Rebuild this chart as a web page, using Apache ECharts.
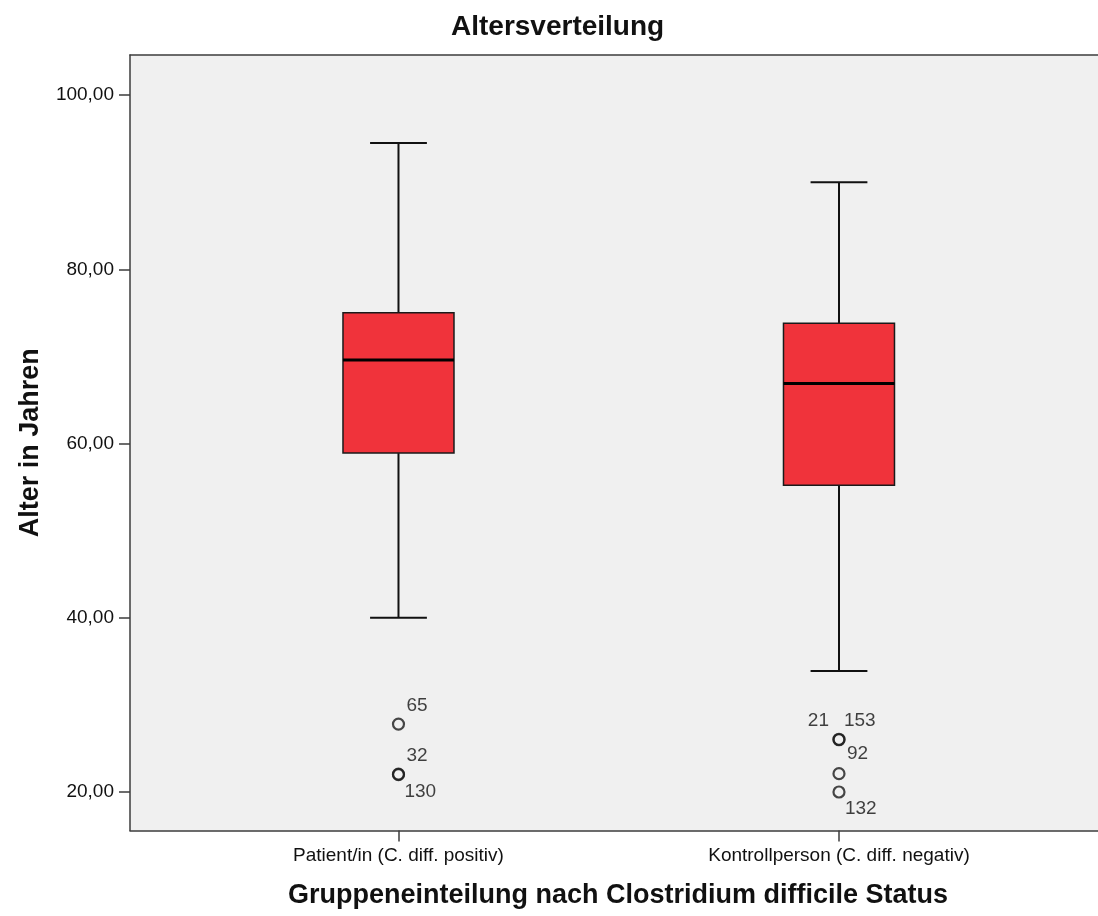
<!DOCTYPE html>
<html>
<head>
<meta charset="utf-8">
<script src="https://cdn.jsdelivr.net/npm/echarts@6/dist/echarts.min.js"></script>
<style>
html,body{margin:0;padding:0;background:#fff;}
#chart{width:1098px;height:916px;}
</style>
</head>
<body>
<div id="chart"></div>
<script>
// ---- data ----
const categories = ['Patient/in (C. diff. positiv)', 'Kontrollperson (C. diff. negativ)'];
const categoryPos = [1, 2];
const whiskerLow = [40.0, 33.9];
const q1 = [58.9, 55.2];
const median = [69.6, 66.9];
const q3 = [75.0, 73.8];
const whiskerHigh = [94.5, 90.0];

const outlierGroup = [1, 1, 1, 2, 2, 2, 2];
const outlierValue = [27.8, 22.0, 22.05, 26.0, 26.05, 22.1, 20.0];
const outlierId = ['65', '32', '130', '21', '153', '92', '132'];

const yTicks = [20, 40, 60, 80, 100];

// ---- style / layout ----
const labelPlacement = {
  '65': {offset: [8, -18], align: 'left'},
  '32': {offset: [8, -19], align: 'left'},
  '130': {offset: [6, 18], align: 'left'},
  '21': {offset: [-10, -19], align: 'right'},
  '153': {offset: [5, -19], align: 'left'},
  '92': {offset: [8, -20], align: 'left'},
  '132': {offset: [6, 17], align: 'left'}
};
const boxWidthUnits = 0.252;
const capWidthUnits = 0.129;
const FONT = '"Liberation Sans", Arial, sans-serif';
const AXIS_COLOR = '#3c3c3c';

const boxData = categoryPos.map((x, i) => [x, whiskerLow[i], q1[i], median[i], q3[i], whiskerHigh[i]]);
const outlierData = outlierValue.map((v, i) => {
  const p = labelPlacement[outlierId[i]];
  return {
    value: [outlierGroup[i], v, outlierId[i]],
    label: {offset: p.offset, align: p.align}
  };
});

function renderBox(params, api) {
  const x = api.value(0);
  const lo = api.coord([x, api.value(1)]);
  const b1 = api.coord([x, api.value(2)]);
  const md = api.coord([x, api.value(3)]);
  const b3 = api.coord([x, api.value(4)]);
  const hi = api.coord([x, api.value(5)]);
  const bw = api.size([boxWidthUnits, 0])[0];
  const cw = api.size([capWidthUnits, 0])[0];
  const cx = lo[0];
  const lineStyle = {stroke: '#111', lineWidth: 2};
  return {
    type: 'group',
    children: [
      {type: 'line', shape: {x1: cx, y1: hi[1], x2: cx, y2: b3[1]}, style: lineStyle},
      {type: 'line', shape: {x1: cx, y1: b1[1], x2: cx, y2: lo[1]}, style: lineStyle},
      {type: 'line', shape: {x1: cx - cw / 2, y1: hi[1], x2: cx + cw / 2, y2: hi[1]}, style: lineStyle},
      {type: 'line', shape: {x1: cx - cw / 2, y1: lo[1], x2: cx + cw / 2, y2: lo[1]}, style: lineStyle},
      {type: 'rect', shape: {x: cx - bw / 2, y: b3[1], width: bw, height: b1[1] - b3[1]},
        style: {fill: '#f0333b', stroke: '#1a1a1a', lineWidth: 1.5}},
      {type: 'line', shape: {x1: cx - bw / 2, y1: md[1], x2: cx + bw / 2, y2: md[1]},
        style: {stroke: '#000', lineWidth: 3}}
    ]
  };
}

const chart = echarts.init(document.getElementById('chart'), null, {renderer: 'canvas'});
chart.setOption({
  backgroundColor: '#ffffff',
  animation: false,
  title: {
    text: 'Altersverteilung',
    left: 446,
    top: 8,
    textStyle: {fontFamily: FONT, fontSize: 28, fontWeight: 'bold', color: '#111'}
  },
  grid: {
    left: 130, top: 55, right: 0, bottom: 85.5,
    show: true, backgroundColor: '#f0f0f0', borderWidth: 0,
    containLabel: false
  },
  xAxis: [{
    type: 'value',
    position: 'bottom',
    min: 0.3905,
    max: 2.588,
    splitLine: {show: false},
    axisLine: {show: true, lineStyle: {color: AXIS_COLOR, width: 1.5}},
    axisTick: {show: true, customValues: categoryPos, length: 11, lineStyle: {color: AXIS_COLOR, width: 1.5}},
    axisLabel: {
      customValues: categoryPos,
      formatter: v => categories[Math.round(v) - 1] || '',
      fontFamily: FONT, fontSize: 19, color: '#111', margin: 16
    },
    name: 'Gruppeneinteilung nach Clostridium difficile Status',
    nameLocation: 'middle',
    nameGap: 52,
    nameTextStyle: {fontFamily: FONT, fontSize: 27, fontWeight: 'bold', color: '#111', padding: [0, 0, 0, 8]}
  }, {
    type: 'value',
    position: 'top',
    min: 0.3905,
    max: 2.588,
    splitLine: {show: false},
    axisLine: {show: true, lineStyle: {color: AXIS_COLOR, width: 1.5}},
    axisTick: {show: false},
    axisLabel: {show: false}
  }],
  yAxis: {
    type: 'value',
    min: 15.58,
    max: 104.6,
    splitLine: {show: false},
    axisLine: {show: true, lineStyle: {color: AXIS_COLOR, width: 1.5}},
    axisTick: {show: true, customValues: yTicks, length: 11, lineStyle: {color: AXIS_COLOR, width: 1.5}},
    axisLabel: {
      customValues: yTicks,
      formatter: v => v.toFixed(2).replace('.', ','),
      fontFamily: FONT, fontSize: 19, color: '#111', margin: 16
    },
    name: 'Alter in Jahren',
    nameLocation: 'middle',
    nameGap: 86,
    nameRotate: 90,
    nameTextStyle: {fontFamily: FONT, fontSize: 27, fontWeight: 'bold', color: '#111'}
  },
  series: [
    {
      type: 'custom',
      data: boxData,
      renderItem: renderBox,
      encode: {x: 0, y: [1, 2, 3, 4, 5]},
      z: 2
    },
    {
      type: 'scatter',
      data: outlierData,
      symbol: 'circle',
      symbolSize: 11,
      itemStyle: {color: 'rgba(0,0,0,0)', borderColor: '#1a1a1a', borderWidth: 2.2},
      label: {
        show: true,
        position: 'inside',
        verticalAlign: 'middle',
        formatter: p => p.value[2],
        fontFamily: FONT, fontSize: 19, color: '#111', textBorderWidth: 0
      },
      z: 3
    }
  ]
});
</script>
</body>
</html>
